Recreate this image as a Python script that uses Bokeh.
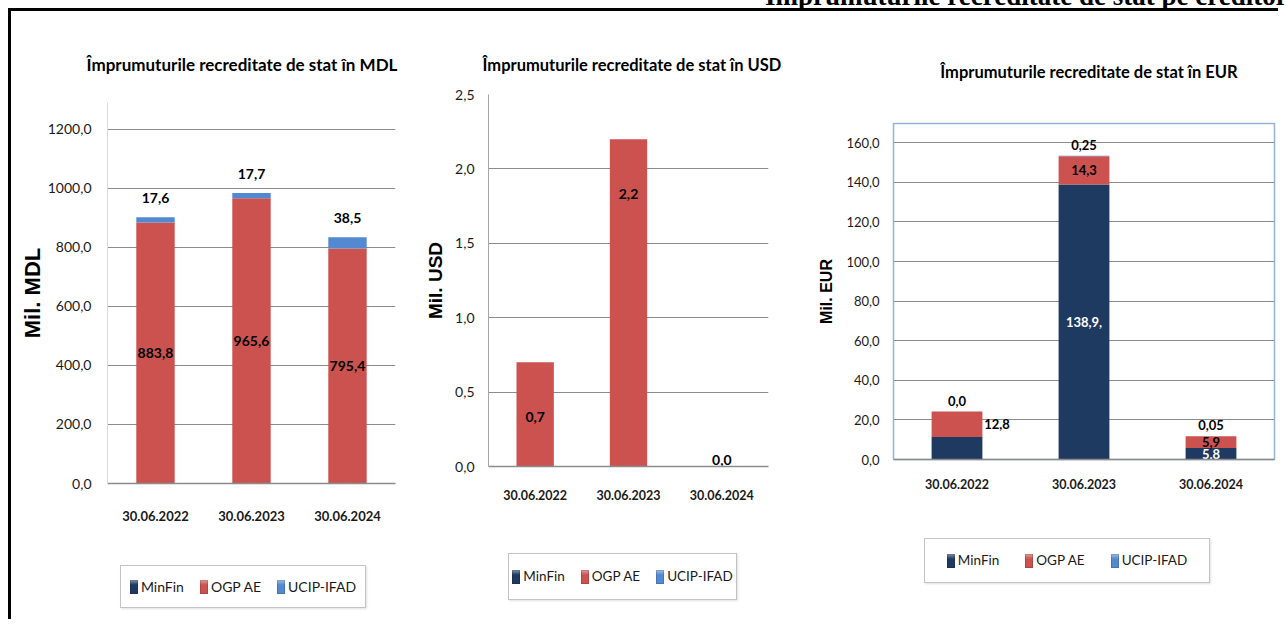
from bokeh.plotting import figure
from bokeh.models import ColumnDataSource, FactorRange, Range1d, CustomJSTickFormatter, FixedTicker, Div
from bokeh.layouts import row, column
from bokeh.core.properties import value
from bokeh.embed import file_html
from bokeh.resources import INLINE

# ---------------- data ----------------
dates = ["30.06.2022", "30.06.2023", "30.06.2024"]
series = ["MinFin", "OGP AE", "UCIP-IFAD"]
colors = ["#1F3A60", "#CB524F", "#5389D0"]

heading = "Împrumuturile recreditate de stat pe creditori"

mdl_title = "Împrumuturile recreditate de stat în MDL"
mdl_ylabel = "Mil. MDL"
mdl_minfin = [0.0, 0.0, 0.0]
mdl_ogp = [883.8, 965.6, 795.4]
mdl_ucip = [17.6, 17.7, 38.5]
mdl_ogp_labels = ["883,8", "965,6", "795,4"]
mdl_ucip_labels = ["17,6", "17,7", "38,5"]
mdl_ticks = [0, 200, 400, 600, 800, 1000, 1200]

usd_title = "Împrumuturile recreditate de stat în USD"
usd_ylabel = "Mil. USD"
usd_minfin = [0.0, 0.0, 0.0]
usd_ogp = [0.7, 2.2, 0.0]
usd_ucip = [0.0, 0.0, 0.0]
usd_ogp_labels = ["0,7", "2,2", "0,0"]
usd_ticks = [0, 0.5, 1.0, 1.5, 2.0, 2.5]

eur_title = "Împrumuturile recreditate de stat în EUR"
eur_ylabel = "Mil. EUR"
eur_minfin = [11.4, 138.9, 5.8]
eur_ogp = [12.8, 14.3, 5.9]
eur_ucip = [0.0, 0.25, 0.05]
eur_minfin_labels = ["", "138,9,", "5,8"]
eur_ogp_labels = ["12,8", "14,3", "5,9"]
eur_ucip_labels = ["0,0", "0,25", "0,05"]
eur_ticks = [0, 20, 40, 60, 80, 100, 120, 140, 160]

FONT = "Lato"
AXLAB = "Liberation Sans"
GRID = "#8C8C8C"
TXT = "#1A1A1A"
H = 608  # height of each chart column


def chart(width, height, mbl, mbr, mbt, mbb, ymax, ticks, tick_size, xtick_size, xstand,
          ylabel, ylabel_size, ylabel_stand, yaxis_color, ystand):
    p = figure(x_range=FactorRange(*dates), y_range=Range1d(0, ymax),
               width=width, height=height, toolbar_location=None, output_backend="svg",
               min_border_left=mbl, min_border_right=mbr, min_border_top=mbt, min_border_bottom=mbb,
               margin=0)
    p.outline_line_color = None
    p.xgrid.grid_line_color = None
    p.ygrid.grid_line_color = GRID
    p.ygrid.grid_line_width = 1
    p.yaxis.ticker = FixedTicker(ticks=ticks)
    p.yaxis.formatter = CustomJSTickFormatter(code="return tick.toFixed(1).replace('.', ',');")
    p.yaxis.major_label_text_font = FONT
    p.yaxis.major_label_text_font_size = tick_size
    p.yaxis.major_label_text_color = TXT
    p.yaxis.major_label_standoff = ystand
    p.yaxis.major_tick_line_color = None
    p.yaxis.minor_tick_line_color = None
    p.yaxis.axis_line_color = yaxis_color
    p.yaxis.axis_label = ylabel
    p.yaxis.axis_label_text_font = AXLAB
    p.yaxis.axis_label_text_font_style = "bold"
    p.yaxis.axis_label_text_font_size = ylabel_size
    p.yaxis.axis_label_text_color = "black"
    p.yaxis.axis_label_standoff = ylabel_stand
    p.xaxis.major_label_text_font = FONT
    p.xaxis.major_label_text_font_style = "bold"
    p.xaxis.major_label_text_font_size = xtick_size
    p.xaxis.major_label_text_color = TXT
    p.xaxis.major_label_standoff = xstand
    p.xaxis.major_tick_line_color = None
    p.xaxis.minor_tick_line_color = None
    p.xaxis.axis_line_color = "#8C8C8C"
    p.xaxis.axis_line_width = 1.5
    return p


def bars(p, minfin, ogp, ucip):
    src = ColumnDataSource(dict(date=dates, MinFin=minfin, OGP=ogp, UCIP=ucip))
    rs = p.vbar_stack(["MinFin", "OGP", "UCIP"], x="date", width=0.4, color=colors, source=src)
    for r in rs:
        r.glyph.line_color = None
    return src


def labels(p, x, y, text, size, color="black", x_off=0, y_off=0):
    src = ColumnDataSource(dict(x=x, y=y, t=text,
                                xo=x_off if isinstance(x_off, list) else [x_off] * len(x),
                                yo=y_off if isinstance(y_off, list) else [y_off] * len(x)))
    p.text(x="x", y="y", text="t", source=src, x_offset="xo", y_offset="yo",
           text_align="center", text_baseline="middle", text_font=value(FONT),
           text_font_style="bold", text_font_size=size, text_color=color)


def title_div(text, width, height, cx, cy, size):
    half = min(cx, width - cx)
    html = ('<div style="position:relative;width:%dpx;height:%dpx;">'
            '<div style="position:absolute;left:%dpx;width:%dpx;top:%dpx;line-height:24px;'
            'text-align:center;white-space:nowrap;font-family:Lato;font-weight:bold;'
            'font-size:%spx;color:black;">%s</div></div>'
            % (width, height, cx - half, 2 * half, cy - 12, size, text))
    return Div(text=html, width=width, height=height, margin=0)


def legend_div(width, height, left, top, bw, bh, size, gap):
    items = ""
    for name, col in zip(series, colors):
        items += ('<span style="display:inline-flex;align-items:center;margin:0 %dpx;">'
                  '<span style="display:inline-block;width:8px;height:14px;margin-right:3px;'
                  'background:linear-gradient(to bottom, rgba(255,255,255,0.45) 0%%, rgba(255,255,255,0) 35%%), %s;'
                  'box-shadow:inset 0 0 0 1px rgba(0,0,0,0.15);"></span>%s</span>'
                  % (gap // 2, col, name))
    html = ('<div style="position:relative;width:%dpx;height:%dpx;">'
            '<div style="position:absolute;left:%dpx;top:%dpx;width:%dpx;height:%dpx;box-sizing:border-box;'
            'border:1.5px solid #C4C4C4;box-shadow:1px 1px 2px rgba(0,0,0,0.12);background:white;'
            'display:flex;align-items:center;justify-content:center;font-family:Lato;'
            'font-size:%spx;color:%s;white-space:nowrap;">%s</div></div>'
            % (width, height, left, top, bw, bh, size, TXT, items))
    return Div(text=html, width=width, height=height, margin=0)


# ---------------- chart 1: MDL ----------------
W1, T1, L1 = 394, 75, 74
p1 = chart(W1, H - T1 - L1, 96, 10, 16, 62, 1290, mdl_ticks, "14px", "13px", 21,
           mdl_ylabel, "22px", 0, "#D5DAE4", 10)
bars(p1, mdl_minfin, mdl_ogp, mdl_ucip)
labels(p1, dates, [a + b / 2 for a, b in zip(mdl_minfin, mdl_ogp)], mdl_ogp_labels, "14px")
labels(p1, dates, [a + b + c for a, b, c in zip(mdl_minfin, mdl_ogp, mdl_ucip)], mdl_ucip_labels,
       "14px", y_off=-19)
c1 = column(title_div(mdl_title, W1, T1, 231, 54, 17), p1,
            legend_div(W1, L1, 109, 20, 246, 43, 14, 17), margin=0, spacing=0)

# ---------------- chart 2: USD ----------------
W2, T2, L2 = 395, 70, 84
p2 = chart(W2, H - T2 - L2, 83, 32, 13, 69, 2.5, usd_ticks, "14px", "12.5px", 17,
           usd_ylabel, "19px", 6, "#A6A6A6", 8)
bars(p2, usd_minfin, usd_ogp, usd_ucip)
labels(p2, dates, [a + b for a, b in zip(usd_minfin, usd_ogp)], usd_ogp_labels, "14px",
       y_off=[55 if v > 0 else -7 for v in usd_ogp])
c2 = column(title_div(usd_title, W2, T2, 227, 54, 16.5), p2,
            legend_div(W2, L2, 103, 18, 229, 47, 13.5, 16), margin=0, spacing=0)

# ---------------- chart 3: EUR ----------------
W3, T3, L3 = 478, 90, 99
p3 = chart(W3, H - T3 - L3, 93, 4, 22, 61, 169.7, eur_ticks, "13px", "12.5px", 13,
           eur_ylabel, "16px", 8, "#95B3D7", 8)
p3.outline_line_color = "#95B3D7"
p3.outline_line_width = 1.5
bars(p3, eur_minfin, eur_ogp, eur_ucip)
labels(p3, dates, [a / 2 for a in eur_minfin], eur_minfin_labels, "13px", color="white")
labels(p3, dates, [a + b / 2 for a, b in zip(eur_minfin, eur_ogp)], eur_ogp_labels, "13px",
       x_off=[40 if (b < 13 and a > 10) else 0 for a, b in zip(eur_minfin, eur_ogp)])
labels(p3, dates, [a + b + c for a, b, c in zip(eur_minfin, eur_ogp, eur_ucip)], eur_ucip_labels,
       "13px", y_off=-11)
c3 = column(title_div(eur_title, W3, T3, 289, 61, 16.5), p3,
            legend_div(W3, L3, 124, 18, 286, 45, 13.5, 26), margin=0, spacing=0)

# ---------------- page frame ----------------
TOTAL_W = 3 + W1 + W2 + W3
top_html = ('<div style="position:relative;height:3px;">'
            '<div style="position:absolute;top:-36px;left:757px;line-height:31px;white-space:nowrap;'
            'font-family:\'Liberation Serif\';font-weight:bold;font-size:27px;color:black;">%s</div></div>'
            % heading)
top_bar = Div(text=top_html, width=TOTAL_W, height=3, margin=0, styles={"background-color": "black"})
left_bar = Div(text="", width=3, height=H, margin=0, styles={"background-color": "black"})

layout = column(top_bar, row(left_bar, c1, c2, c3, margin=0, spacing=0), margin=(8, 0, 0, 8), spacing=0)

open("out.html", "w").write(file_html(layout, INLINE))
